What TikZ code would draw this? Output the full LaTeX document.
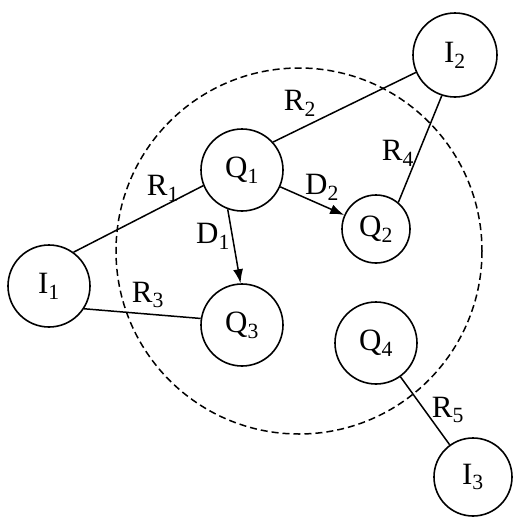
\documentclass[tikz,border=0pt]{standalone}
\usepackage{fontspec}
\setmainfont{Liberation Serif}
\usetikzlibrary{arrows.meta}
\tikzset{
  agent/.style={draw, circle, line width=1.6pt, inner sep=0pt, font=\fontsize{31}{34}\selectfont},
  link/.style={line width=1.5pt},
  flow/.style={line width=1.5pt, -{Latex[length=14pt,width=10pt]}},
  lbl/.style={font=\fontsize{31}{34}\selectfont, inner sep=0pt},
  region/.style={line width=1.5pt, dash pattern=on 7pt off 4pt}
}
\newcommand{\ix}[1]{\textsubscript{#1}}
\begin{document}
\begin{tikzpicture}[x=1pt, y=-1pt]
  \useasboundingbox[fill=white] (0,0) rectangle (512,517);
  % region boundary
  \draw[region] (299,251) circle (183);
  % agents
  \node[agent, minimum size=84pt] (I2) at (455,55)  {I\ix{2}};
  \node[agent, minimum size=82pt] (Q1) at (242,170) {Q\ix{1}};
  \node[agent, minimum size=68pt] (Q2) at (376,229) {Q\ix{2}};
  \node[agent, minimum size=82pt] (I1) at (49,286)  {I\ix{1}};
  \node[agent, minimum size=82pt] (Q3) at (242,325) {Q\ix{3}};
  \node[agent, minimum size=82pt] (Q4) at (376,343) {Q\ix{4}};
  \node[agent, minimum size=78pt] (I3) at (473,477) {I\ix{3}};
  % relations
  \draw[link] (Q1.42) -- (I2.204);
  \draw[link] (I2.252) -- (Q2.50);
  \draw[link] (I1.54) -- (Q1.202);
  \draw[link] (I1.-33) -- (Q3.171);
  \draw[link] (Q4) -- (I3);
  % dependencies
  \draw[flow] (Q1) -- (Q2);
  \draw[flow] (Q1.250) -- (Q3.92);
  % labels
  \node[lbl] (lR2) at (300,103) {R\ix{2}};
  \node[lbl] (lR4) at (398,153) {R\ix{4}};
  \node[lbl] (lR1) at (163,188) {R\ix{1}};
  \node[lbl] (lD2) at (322,187) {D\ix{2}};
  \node[lbl] (lD1) at (213,236) {D\ix{1}};
  \node[lbl] (lR3) at (148,295) {R\ix{3}};
  \node[lbl] (lR5) at (448,410) {R\ix{5}};
\end{tikzpicture}
\end{document}
